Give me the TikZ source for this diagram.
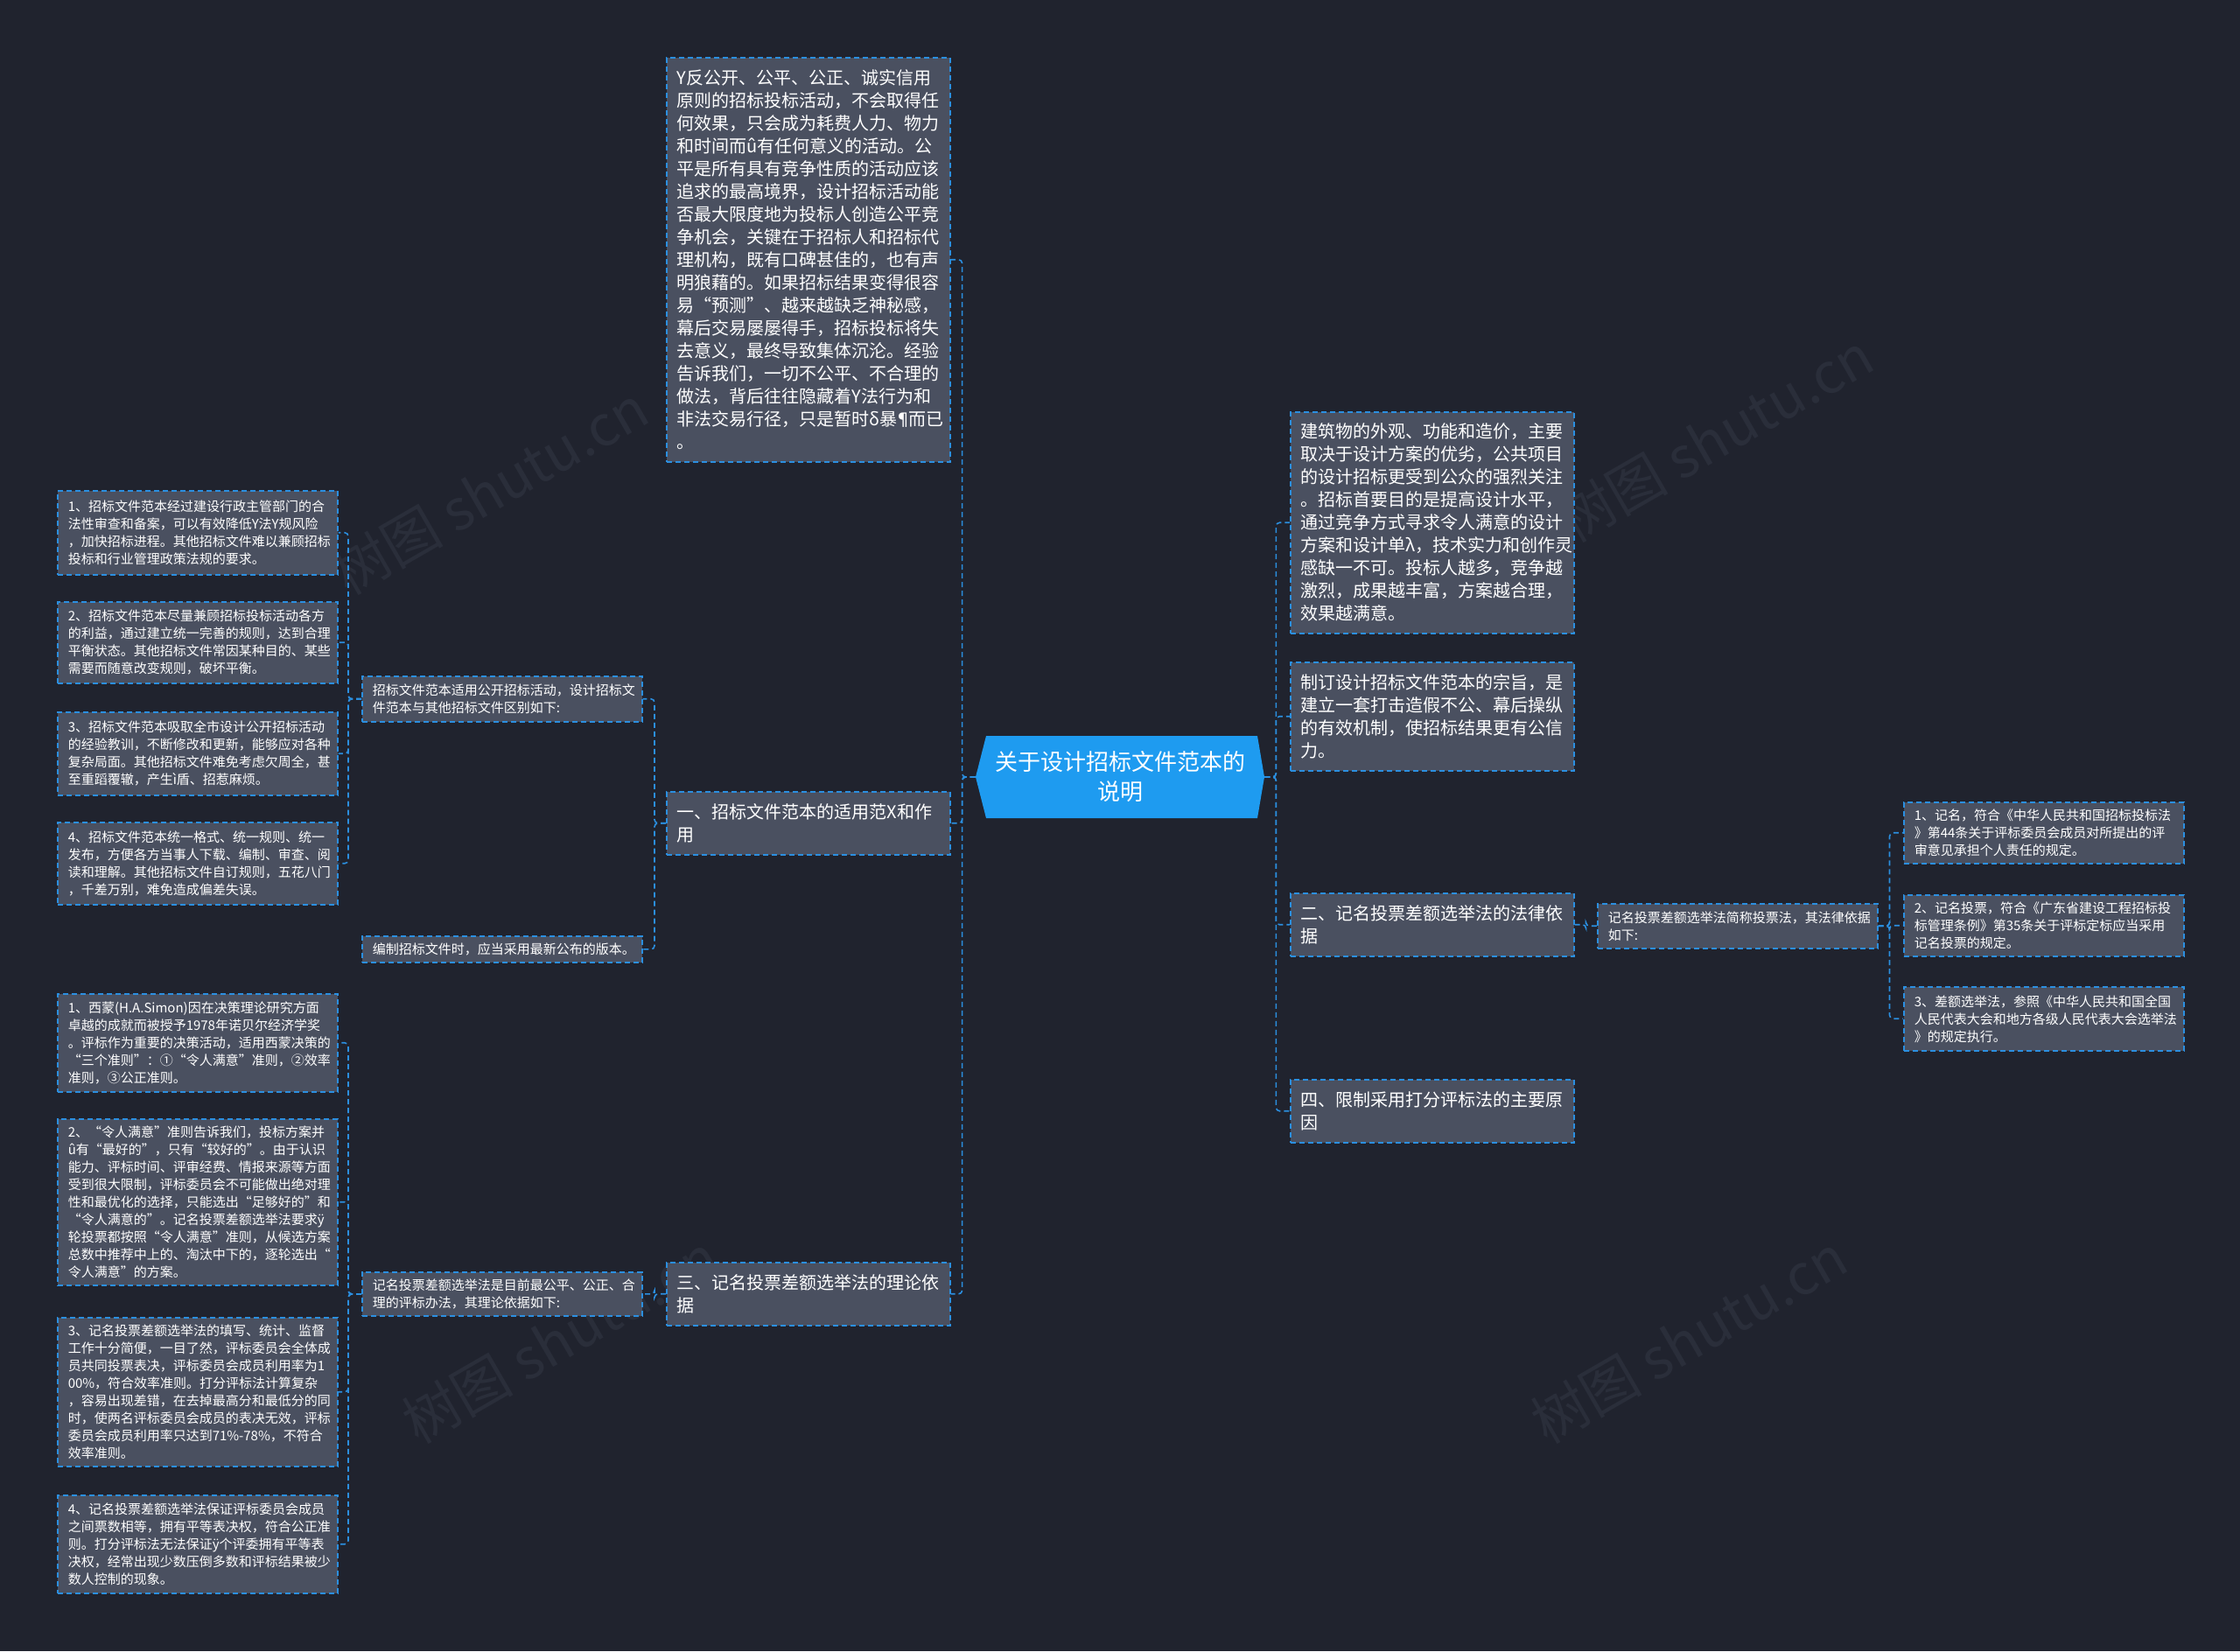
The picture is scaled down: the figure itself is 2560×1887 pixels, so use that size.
\documentclass[tikz,border=0pt]{standalone}
\usepackage{fontspec}
\setmainfont{Noto Sans CJK SC}
\newfontfamily\cjk{Noto Sans CJK SC}
\newfontfamily\djv{DejaVu Sans}
\definecolor{bgc}{RGB}{32,35,46}
\definecolor{boxc}{RGB}{74,80,96}
\definecolor{linec}{RGB}{43,143,224}
\definecolor{centerc}{RGB}{30,155,240}
\definecolor{wmc}{RGB}{42,46,58}
\tikzset{
  box/.style={draw=linec, dash pattern=on 3pt off 2pt, line width=0.75pt, fill=boxc,
    anchor=north west, inner xsep=6pt, inner ysep=4pt, align=left, text=white},
  big/.style={box, font=\cjk\fontsize{10}{13}\selectfont, text width=150pt},
  small/.style={box, font=\cjk\fontsize{7.5}{10}\selectfont, text width=148pt},
  conn/.style={draw=linec, dash pattern=on 3pt off 2pt, line width=0.8pt, rounded corners=2pt},
  wm/.style={font=\cjk\fontsize{32}{32}\selectfont, text=wmc, rotate=30}
}
\begin{document}
\begin{tikzpicture}[x=0.5pt,y=-0.5pt]
\useasboundingbox (0,0) rectangle (2560,1887);
\fill[bgc] (0,0) rectangle (2560,1887);
% watermarks
\node[wm] (wm1) at (560,560) {树图 shutu.cn};
\node[wm] (wm2) at (1960,500) {树图 shutu.cn};
\node[wm] (wm3) at (640,1530) {树图 shutu.cn};
\node[wm] (wm4) at (1930,1530) {树图 shutu.cn};
% center hexagon
\fill[centerc] (1115,888) -- (1127,841) -- (1437,841) -- (1445,888) -- (1437,935) -- (1127,935) -- cycle;
\node[minimum width=165pt, minimum height=47pt, inner sep=0pt, text=white, align=center,
  font=\cjk\fontsize{13}{17}\selectfont] (c) at (1280,888) {关于设计招标文件范本的\\说明};

% left level 1
\node[big, minimum height=231pt] (Ltop) at (761,65) {Y反公开、公平、公正、诚实信用\\原则的招标投标活动，不会取得任\\何效果，只会成为耗费人力、物力\\和时间而û有任何意义的活动。公\\平是所有具有竞争性质的活动应该\\追求的最高境界，设计招标活动能\\否最大限度地为投标人创造公平竞\\争机会，关键在于招标人和招标代\\理机构，既有口碑甚佳的，也有声\\明狼藉的。如果招标结果变得很容\\易“预测”、越来越缺乏神秘感，\\幕后交易屡屡得手，招标投标将失\\去意义，最终导致集体沉沦。经验\\告诉我们，一切不公平、不合理的\\做法，背后往往隐藏着Y法行为和\\非法交易行径，只是暂时δ暴{\djv ¶}而已\\。};
\node[big, minimum height=36pt] (L1) at (761,904) {一、招标文件范本的适用范X和作\\用};
\node[big, minimum height=36pt] (L3) at (761,1442) {三、记名投票差额选举法的理论依\\据};

% right level 1
\node[big, minimum height=126.5pt] (R1) at (1474,470) {建筑物的外观、功能和造价，主要\\取决于设计方案的优劣，公共项目\\的设计招标更受到公众的强烈关注\\。招标首要目的是提高设计水平，\\通过竞争方式寻求令人满意的设计\\方案和设计单λ，技术实力和创作灵\\感缺一不可。投标人越多，竞争越\\激烈，成果越丰富，方案越合理，\\效果越满意。};
\node[big, minimum height=62pt] (R2) at (1474,756) {制订设计招标文件范本的宗旨，是\\建立一套打击造假不公、幕后操纵\\的有效机制，使招标结果更有公信\\力。};
\node[big, minimum height=36pt] (R3) at (1474,1020) {二、记名投票差额选举法的法律依\\据};
\node[big, minimum height=36pt] (R4) at (1474,1233) {四、限制采用打分评标法的主要原\\因};

% right level 2/3
\node[small, minimum height=25.5pt] (R5) at (1825,1032) {记名投票差额选举法简称投票法，其法律依据\\如下:};
\node[small, minimum height=35pt] (RR1) at (2175,916) {1、记名，符合《中华人民共和国招标投标法\\》第44条关于评标委员会成员对所提出的评\\审意见承担个人责任的规定。};
\node[small, minimum height=35pt] (RR2) at (2175,1022) {2、记名投票，符合《广东省建设工程招标投\\标管理条例》第35条关于评标定标应当采用\\记名投票的规定。};
\node[small, minimum height=36.5pt] (RR3) at (2175,1127) {3、差额选举法，参照《中华人民共和国全国\\人民代表大会和地方各级人民代表大会选举法\\》的规定执行。};

% left level 2
\node[small, minimum height=26pt] (LL1) at (413,772) {招标文件范本适用公开招标活动，设计招标文\\件范本与其他招标文件区别如下:};
\node[small, minimum height=15pt] (LL2) at (413,1069) {编制招标文件时，应当采用最新公布的版本。};
\node[small, minimum height=24.5pt] (LL3) at (413,1453) {记名投票差额选举法是目前最公平、公正、合\\理的评标办法，其理论依据如下:};

% left level 3 (A)
\node[small, minimum height=48pt] (A1) at (65,560) {1、招标文件范本经过建设行政主管部门的合\\法性审查和备案，可以有效降低Y法Y规风险\\，加快招标进程。其他招标文件难以兼顾招标\\投标和行业管理政策法规的要求。};
\node[small, minimum height=46.5pt] (A2) at (65,687) {2、招标文件范本尽量兼顾招标投标活动各方\\的利益，通过建立统一完善的规则，达到合理\\平衡状态。其他招标文件常因某种目的、某些\\需要而随意改变规则，破坏平衡。};
\node[small, minimum height=47.5pt] (A3) at (65,813) {3、招标文件范本吸取全市设计公开招标活动\\的经验教训，不断修改和更新，能够应对各种\\复杂局面。其他招标文件难免考虑欠周全，甚\\至重蹈覆辙，产生ì盾、招惹麻烦。};
\node[small, minimum height=47pt] (A4) at (65,939) {4、招标文件范本统一格式、统一规则、统一\\发布，方便各方当事人下载、编制、审查、阅\\读和理解。其他招标文件自订规则，五花八门\\，千差万别，难免造成偏差失误。};

% left level 3 (B)
\node[small, minimum height=56pt] (B1) at (65,1135) {1、西蒙(H.A.Simon)因在决策理论研究方面\\卓越的成就而被授予1978年诺贝尔经济学奖\\。评标作为重要的决策活动，适用西蒙决策的\\“三个准则”：①“令人满意”准则，②效率\\准则，③公正准则。};
\node[small, minimum height=95pt] (B2) at (65,1278) {2、“令人满意”准则告诉我们，投标方案并\\û有“最好的”，只有“较好的”。由于认识\\能力、评标时间、评审经费、情报来源等方面\\受到很大限制，评标委员会不可能做出绝对理\\性和最优化的选择，只能选出“足够好的”和\\“令人满意的”。记名投票差额选举法要求ÿ\\轮投票都按照“令人满意”准则，从候选方案\\总数中推荐中上的、淘汰中下的，逐轮选出“\\令人满意”的方案。};
\node[small, minimum height=85pt] (B3) at (65,1505) {3、记名投票差额选举法的填写、统计、监督\\工作十分简便，一目了然，评标委员会全体成\\员共同投票表决，评标委员会成员利用率为1\\00\%，符合效率准则。打分评标法计算复杂\\，容易出现差错，在去掉最高分和最低分的同\\时，使两名评标委员会成员的表决无效，评标\\委员会成员利用率只达到71\%-78\%，不符合\\效率准则。};
\node[small, minimum height=56pt] (B4) at (65,1708) {4、记名投票差额选举法保证评标委员会成员\\之间票数相等，拥有平等表决权，符合公正准\\则。打分评标法无法保证ÿ个评委拥有平等表\\决权，经常出现少数压倒多数和评标结果被少\\数人控制的现象。};

% connectors
\foreach \t in {Ltop,L1,L3} \draw[conn] (c.west) -- ++(-15,0) |- (\t.east);
\foreach \t in {R1,R2,R3,R4} \draw[conn] (c.east) -- ++(13,0) |- (\t.west);
\draw[conn] (R3.east) -- ++(13,0) |- (R5.west);
\foreach \t in {RR1,RR2,RR3} \draw[conn] (R5.east) -- ++(13,0) |- (\t.west);
\foreach \t in {LL1,LL2} \draw[conn] (L1.west) -- ++(-13,0) |- (\t.east);
\draw[conn] (L3.west) -- ++(-13,0) |- (LL3.east);
\foreach \t in {A1,A2,A3,A4} \draw[conn] (LL1.west) -- ++(-15,0) |- (\t.east);
\foreach \t in {B1,B2,B3,B4} \draw[conn] (LL3.west) -- ++(-15,0) |- (\t.east);
\end{tikzpicture}
\end{document}
